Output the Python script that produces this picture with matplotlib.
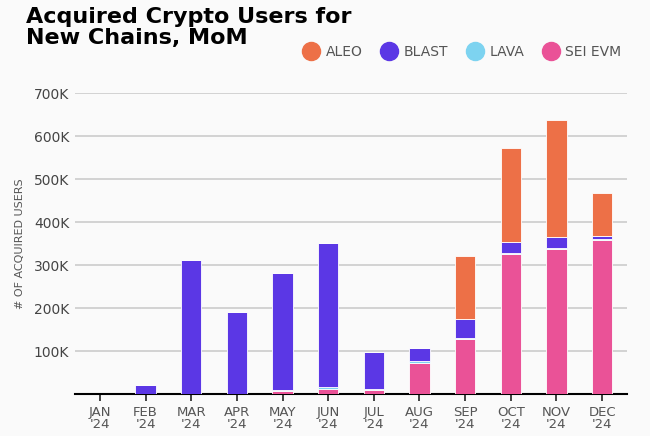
import numpy as np
import matplotlib
matplotlib.use("Agg")
import matplotlib.pyplot as plt
from matplotlib.lines import Line2D

months = ["JAN\n'24", "FEB\n'24", "MAR\n'24", "APR\n'24", "MAY\n'24", "JUN\n'24",
          "JUL\n'24", "AUG\n'24", "SEP\n'24", "OCT\n'24", "NOV\n'24", "DEC\n'24"]
sei = [0, 0, 0, 0, 8, 13, 10, 72, 129, 326, 337, 359]
lava = [0, 0, 0, 0, 2, 3, 3, 5, 1, 2, 2, 2]
blast = [0, 21, 311, 191, 271, 336, 86, 31, 46, 26, 26, 8]
aleo = [0, 0, 0, 0, 0, 0, 0, 0, 145, 219, 274, 98]

series = [("SEI EVM", sei, "#EA5297"), ("LAVA", lava, "#7DD3F0"),
          ("BLAST", blast, "#5B37E5"), ("ALEO", aleo, "#ED7047")]

bg = "#FAFAFA"
fig = plt.figure(figsize=(6.5, 4.36), dpi=100, facecolor=bg)
ax = fig.add_axes([0.115, 0.096, 0.85, 0.69], facecolor=bg)

x = np.arange(len(months))
bottom = np.zeros(len(months))
for name, vals, col in series:
    v = np.array(vals, dtype=float) * 1000
    ax.bar(x, v, 0.45, bottom=bottom, color=col, edgecolor="white", linewidth=0.6, zorder=3)
    bottom += v

ax.set_ylim(0, 700000)
ax.set_xlim(-0.55, 11.55)
ax.set_yticks(np.arange(100000, 700001, 100000))
ax.set_yticklabels([f"{k}K" for k in range(100, 701, 100)], color="#444444", fontsize=10)
ax.set_xticks(x)
ax.set_xticklabels(months, color="#555555", fontsize=9.5, linespacing=0.9)
ax.tick_params(axis="y", length=0, pad=4)
ax.tick_params(axis="x", length=5, color="#222222", width=1.2)
ax.grid(axis="y", color="#CCCCCC", linewidth=1.2, zorder=0)
for s in ["top", "right", "left"]:
    ax.spines[s].set_visible(False)
ax.spines["bottom"].set_linewidth(1.5)
ax.set_ylabel("# OF ACQUIRED USERS", fontsize=8, color="#555555", labelpad=6)

fig.text(0.04, 0.985, "Acquired Crypto Users for\nNew Chains, MoM", fontsize=16,
         fontweight="bold", va="top", ha="left", linespacing=1.1)

handles = [Line2D([], [], marker="o", linestyle="", markersize=13, color=c)
           for _, _, c in [series[3], series[2], series[1], series[0]]]
labels = ["ALEO", "BLAST", "LAVA", "SEI EVM"]
fig.legend(handles, labels, loc="center right", bbox_to_anchor=(0.975, 0.88), ncol=4,
           frameon=False, fontsize=10, handletextpad=0.05, columnspacing=0.9,
           labelcolor="#555555")

fig.savefig("out.png", dpi=100, facecolor=bg)
